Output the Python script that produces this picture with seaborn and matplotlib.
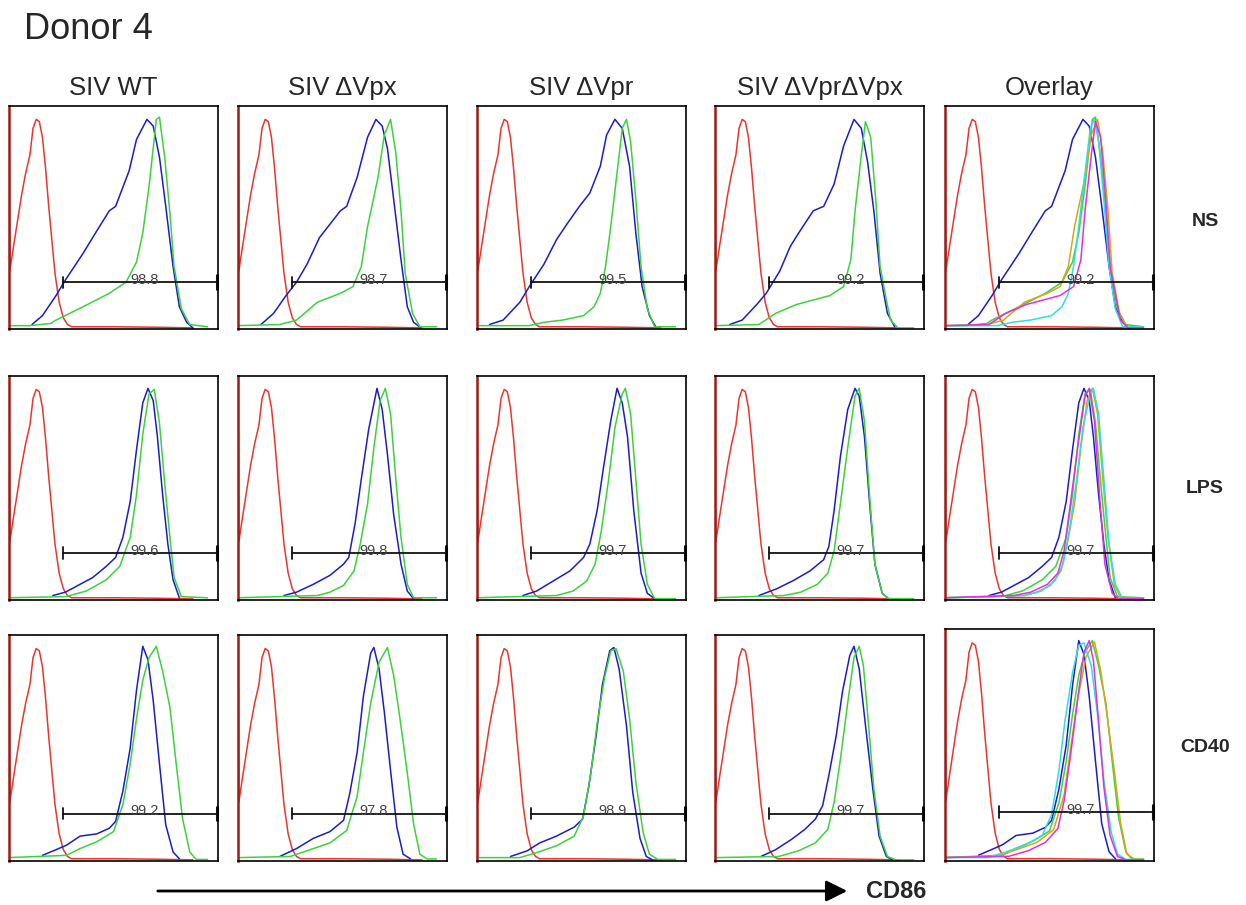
import seaborn as sns
import matplotlib.pyplot as plt
from matplotlib.patches import FancyArrowPatch

# -----------------------------------------------------------
# Flow cytometry histograms
# x = % of the CD86 axis, y = % of panel height
# -----------------------------------------------------------

conditions = ["SIV WT", "SIV \u0394Vpx", "SIV \u0394Vpr", "SIV \u0394Vpr\u0394Vpx"]
stimuli = ["NS", "LPS", "CD40"]

gate_values = [
    ["98.8", "98.7", "99.5", "99.2", "99.2"],
    ["99.6", "99.8", "99.7", "99.7", "99.7"],
    ["99.2", "97.8", "98.9", "99.7", "99.7"],
]

# isotype control (same in every panel)
red_x = [0, 0.4, 2, 4, 6, 8, 10, 11.5, 13, 14.5, 16, 17.5, 19, 20.5, 22, 24, 26, 28, 30, 50, 70, 88]
red_y = [100, 26, 36, 48, 60, 70, 78, 90, 94, 93, 86, 72, 55, 40, 25, 12, 5, 2, 1, 1, 0.8, 0.5]

# --- NS ---
ns_wt_blue_x = [11, 16, 22.5, 27, 35.5, 42, 48, 51, 57.5, 61, 66, 69, 72, 75, 78.5, 81.5, 85, 88]
ns_wt_blue_y = [2, 6, 15, 22, 34, 44, 53, 55, 71, 85, 94, 91, 77, 55, 28, 10, 3, 0.5]
ns_wt_green_x = [0, 10, 20, 22.5, 35.5, 48, 56, 61, 64, 67, 70.5, 72, 74.5, 77, 79, 82.5, 86.5, 95]
ns_wt_green_y = [1.5, 1.5, 2.5, 4, 10, 16, 21, 30, 43, 64, 94, 95, 77, 52, 28, 9, 2, 1]

ns_vpx_blue_x = [11, 17, 23, 28, 33, 39, 44, 49, 52, 57, 62, 66, 69, 71.5, 74.5, 78, 81, 84, 87.5]
ns_vpx_blue_y = [2, 7, 15, 21, 29, 41, 47, 53, 55, 68, 86, 94, 91, 81, 58, 31, 10, 3, 0.6]
ns_vpx_green_x = [0, 20, 28, 38, 49, 55, 59, 62, 67, 70, 73, 75.5, 78, 80, 83.5, 87, 95]
ns_vpx_green_y = [1.5, 2, 4, 12, 16, 19, 28, 46, 68, 87, 94, 79, 53, 25, 7, 1, 1]

ns_vpr_blue_x = [6, 12.5, 20.5, 25, 32, 38, 43, 49, 54, 59, 62, 66, 69.5, 73, 76, 79, 82.5, 85.5]
ns_vpr_blue_y = [2, 4, 12, 19, 29, 40, 47, 55, 61, 73, 87, 94, 90, 73, 43, 19, 6, 1]
ns_vpr_green_x = [0, 25, 32, 41, 51, 56, 59, 61.5, 64, 67, 69.5, 71.5, 73.5, 76, 78.5, 81.5, 85, 95]
ns_vpr_green_y = [1.5, 1.5, 3, 4, 6, 10, 16, 28, 46, 70, 90, 94, 84, 58, 28, 9, 1, 1]

ns_dbl_blue_x = [7, 13, 20, 24.5, 31, 36, 40, 47, 52, 57, 61.5, 66.5, 70, 73, 76, 79, 82.5, 86]
ns_dbl_blue_y = [2, 4, 11, 16, 26, 37, 43, 53, 55, 65, 82, 94, 90, 75, 53, 25, 7, 1]
ns_dbl_green_x = [0, 21, 29, 39, 47, 55, 61.5, 65, 67, 70, 72, 74.5, 77, 79, 82, 84, 87.5, 95]
ns_dbl_green_y = [1.5, 2, 7, 11, 13, 15, 19, 31, 53, 78, 93, 86, 57, 28, 13, 4, 0.5, 0.5]

# --- LPS ---
lps_wt_blue_x = [21, 27, 34, 40, 46.5, 51, 54.5, 58, 61, 64, 66.5, 69, 71, 73.5, 76, 78.5, 81.5]
lps_wt_blue_y = [2, 3.5, 7, 10, 15, 19, 28, 44, 67, 88, 94.5, 89, 73, 47, 25, 9, 1]
lps_wt_green_x = [0, 27, 37, 46.5, 53, 58, 61, 64, 67, 69.5, 72, 74.5, 77, 79, 82.5, 95]
lps_wt_green_y = [1, 1.5, 4, 9, 15, 28, 47, 74, 92, 94, 79, 52, 28, 10, 1.5, 1]

lps_vpx_blue_x = [22, 28, 36, 44, 50.5, 53, 56, 59, 62.5, 66.5, 69, 71.5, 74.5, 78, 81, 84]
lps_vpx_blue_y = [2, 3.5, 7, 11, 16, 19, 34, 54, 76, 94.5, 85, 65, 38, 16, 4, 0.6]
lps_vpx_green_x = [0, 38, 44, 50.5, 55.5, 58.5, 62, 65, 68, 70.5, 73, 75.5, 78, 81, 84, 95]
lps_vpx_green_y = [1, 2, 3.5, 6.5, 13, 25, 43, 68, 89, 94.5, 83, 54, 28, 7, 1, 1]

lps_vpr_blue_x = [22, 28.5, 36.5, 44.5, 51, 54, 57.5, 60.5, 64, 67, 69.5, 72, 75, 78.5, 81.5, 85]
lps_vpr_blue_y = [2, 4, 8.5, 13, 19, 25, 40, 59, 80, 94.5, 88, 73, 40, 12, 3, 0.6]
lps_vpr_green_x = [0, 38, 46, 52.5, 56.5, 59.5, 63, 66, 69.5, 71, 73.5, 76, 78.5, 81.5, 85, 95]
lps_vpr_green_y = [1, 2, 4, 8.5, 16, 31, 54, 77, 92, 94.5, 83, 54, 25, 7, 0.6, 0.6]

lps_dbl_blue_x = [21, 29.5, 37.5, 45.5, 52, 54.5, 57, 60, 63.5, 67, 69, 71.5, 74, 76.5, 80, 83]
lps_dbl_blue_y = [2, 5, 8.7, 13, 18, 24, 40, 64, 85, 94.5, 91, 73, 43, 16, 3, 0.6]
lps_dbl_green_x = [0, 33, 41, 49, 54, 57, 60, 63.5, 67, 69, 71.5, 74, 76.5, 80, 83, 95]
lps_dbl_green_y = [1, 2, 3.5, 7, 12, 22, 43, 68, 91, 94.5, 80, 46, 16, 3, 0.6, 0.6]

# --- CD40 ---
cd40_wt_blue_x = [16, 22.5, 27.5, 34, 42, 48, 51, 54.5, 58, 61, 64, 66.5, 69, 72, 75, 78.5, 81.5]
cd40_wt_blue_y = [2.5, 5, 7, 11, 12, 14.5, 17.5, 31, 50, 75.5, 95, 89, 71, 43, 16, 4, 1]
cd40_wt_green_x = [0, 27.5, 34, 42, 50, 54.5, 58, 61, 64, 67, 70.5, 73.5, 77, 80, 83, 86.5, 89.5, 95]
cd40_wt_green_y = [1.5, 2.5, 5.5, 8.5, 13, 25, 43, 63, 80, 90, 95, 84, 68, 43, 19, 4, 0.7, 0.7]

cd40_vpx_blue_x = [20, 28, 36, 44, 50.5, 53.5, 57, 60, 63.5, 65, 67.5, 70, 73, 76, 79, 82.5]
cd40_vpx_blue_y = [2, 5.5, 10, 13, 18, 30, 48, 73, 92, 94.5, 85, 66, 40, 15, 3, 1]
cd40_vpx_green_x = [0, 25, 34.5, 44, 52, 57, 60, 63.5, 67.5, 71.5, 74.5, 77.5, 81, 84, 87, 90.5, 95]
cd40_vpx_green_y = [1.5, 2, 5, 8, 13.5, 28.5, 48, 70, 88, 94.5, 82, 63, 39, 16.5, 3, 0.9, 0.9]

cd40_vpr_blue_x = [16, 24, 30, 38, 46.5, 50.5, 53.5, 57, 60, 63.5, 65.5, 68, 71.5, 74.5, 78, 81, 84]
cd40_vpr_blue_y = [2, 4.5, 8, 11, 15, 18.5, 33, 55.5, 78, 93, 94.5, 85, 60, 30.5, 10, 2, 0.5]
cd40_vpr_green_x = [0, 20.5, 28.5, 38, 46.5, 51, 54.5, 57.5, 61, 64, 66.5, 70, 73, 76, 79.5, 82.5, 86.5, 95]
cd40_vpr_green_y = [1.5, 1.5, 3.7, 6.7, 11, 20, 39, 61, 81, 93, 94, 84, 63, 35, 12.5, 3, 0.7, 0.7]

cd40_dbl_blue_x = [22, 29, 36.5, 43, 48, 51.5, 54.5, 58, 61, 64.5, 66.5, 69, 72, 75.5, 78.5, 82, 85]
cd40_dbl_blue_y = [2, 5, 9.5, 14, 18.5, 24.5, 38, 55.5, 75, 91, 95, 85, 60, 32, 11, 2, 0.5]
cd40_dbl_green_x = [0, 30.5, 40, 48, 54, 57, 60, 63.5, 66.5, 69, 71, 73.5, 76, 79, 82.5, 86.5, 95]
cd40_dbl_green_y = [1.5, 2, 4.5, 8, 14, 26, 45, 70, 90, 95, 86.5, 60, 32, 11, 2, 0.5, 0.5]

blue_curves = [
    [(ns_wt_blue_x, ns_wt_blue_y), (ns_vpx_blue_x, ns_vpx_blue_y),
     (ns_vpr_blue_x, ns_vpr_blue_y), (ns_dbl_blue_x, ns_dbl_blue_y)],
    [(lps_wt_blue_x, lps_wt_blue_y), (lps_vpx_blue_x, lps_vpx_blue_y),
     (lps_vpr_blue_x, lps_vpr_blue_y), (lps_dbl_blue_x, lps_dbl_blue_y)],
    [(cd40_wt_blue_x, cd40_wt_blue_y), (cd40_vpx_blue_x, cd40_vpx_blue_y),
     (cd40_vpr_blue_x, cd40_vpr_blue_y), (cd40_dbl_blue_x, cd40_dbl_blue_y)],
]
green_curves = [
    [(ns_wt_green_x, ns_wt_green_y), (ns_vpx_green_x, ns_vpx_green_y),
     (ns_vpr_green_x, ns_vpr_green_y), (ns_dbl_green_x, ns_dbl_green_y)],
    [(lps_wt_green_x, lps_wt_green_y), (lps_vpx_green_x, lps_vpx_green_y),
     (lps_vpr_green_x, lps_vpr_green_y), (lps_dbl_green_x, lps_dbl_green_y)],
    [(cd40_wt_green_x, cd40_wt_green_y), (cd40_vpx_green_x, cd40_vpx_green_y),
     (cd40_vpr_green_x, cd40_vpr_green_y), (cd40_dbl_green_x, cd40_dbl_green_y)],
]

# -----------------------------------------------------------
# Style
# -----------------------------------------------------------

sns.set_style("white")
plt.rcParams["font.family"] = ["Liberation Sans", "DejaVu Sans"]

RED = "#e8362e"
BLUE = "#1c1cc8"
GREEN = "#3cd23c"
overlay_colors = ["#3cd23c", "#d9a41a", "#2fdede", "#e030e0"]

W, H = 1246, 905
fig = plt.figure(figsize=(W / 100, H / 100), dpi=100)

col_left = [9, 238, 477, 715, 945]
panel_w = 209
row_top = [106, 376, 635]
row_bottom = [329, 600, 861]


def draw_curve(ax, xs, ys, color, lw=1.1):
    sns.lineplot(x=xs, y=ys, ax=ax, color=color, linewidth=lw,
                 estimator=None, sort=False, legend=False)


for r in range(3):
    for c in range(5):
        top = row_top[r] - (6 if (c == 4 and r == 2) else 0)
        h = row_bottom[r] - top
        ax = fig.add_axes([col_left[c] / W, 1 - row_bottom[r] / H, panel_w / W, h / H])

        draw_curve(ax, red_x, red_y, RED)
        if c < 4:
            bx, by = blue_curves[r][c]
            gx, gy = green_curves[r][c]
            draw_curve(ax, bx, by, BLUE)
            draw_curve(ax, gx, gy, GREEN)
        else:
            bx, by = blue_curves[r][0]
            draw_curve(ax, bx, by, BLUE)
            for k in range(4):
                gx, gy = green_curves[r][k]
                draw_curve(ax, gx, gy, overlay_colors[k])

        # gate marker
        ax.plot([26, 99.6], [21, 21], color="#111111", lw=1.3, clip_on=False)
        ax.plot([26, 26], [18.5, 23.5], color="#111111", lw=1.3, clip_on=False)
        ax.plot([99.6, 99.6], [18, 24], color="#111111", lw=2.2, clip_on=False)
        ax.text(65, 20.2, gate_values[r][c], ha="center", va="baseline",
                fontsize=10.5, color="#444444")

        ax.set_xlim(0, 100)
        ax.set_ylim(0, 100)
        ax.set_xticks([])
        ax.set_yticks([])
        ax.set_xlabel("")
        ax.set_ylabel("")
        for sp in ax.spines.values():
            sp.set_color("black")
            sp.set_linewidth(1.2)
        ax.spines["left"].set_color("#a01a14")
        ax.spines["left"].set_linewidth(1.8)

# -----------------------------------------------------------
# Labels
# -----------------------------------------------------------

fig.text(24 / W, 1 - 39 / H, "Donor 4", fontsize=26, va="baseline")

for c, name in enumerate(conditions + ["Overlay"]):
    fig.text((col_left[c] + panel_w / 2) / W, 1 - 95 / H, name,
             ha="center", va="baseline", fontsize=18.5)

for r, (name, yc) in enumerate(zip(stimuli, [222, 488, 748])):
    fig.text(1205 / W, 1 - yc / H, name, ha="center", va="center",
             fontsize=14, fontweight="bold")

arrow = FancyArrowPatch((155 / W, 1 - 891 / H), (850 / W, 1 - 891 / H),
                        transform=fig.transFigure, arrowstyle="-|>,head_length=8,head_width=4",
                        mutation_scale=1.6, color="black", lw=2)
fig.add_artist(arrow)
fig.text(866 / W, 1 - 891 / H, "CD86", fontsize=17, fontweight="bold", va="center")

plt.savefig("out.png", dpi=100)
plt.close()
